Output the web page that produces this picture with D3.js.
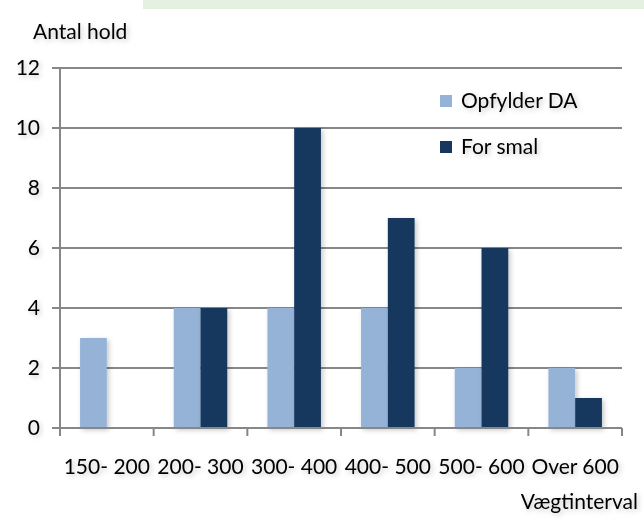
<!DOCTYPE html>
<html>
<head>
<meta charset="utf-8">
<script src="https://cdn.jsdelivr.net/npm/d3@7"></script>
<style>
body { margin: 0; background: #fff; }
svg text { font-family: Lato, "Open Sans", sans-serif; fill: #000; }
</style>
</head>
<body>
<div id="chart"></div>
<script>
// chart data
const categories = ["150- 200", "200- 300", "300- 400", "400- 500", "500- 600", "Over 600"];
const opfylder = [3, 4, 4, 4, 2, 2];
const forSmal = [0, 4, 10, 7, 6, 1];
const seriesNames = ["Opfylder DA", "For smal"];
const yTicks = [0, 2, 4, 6, 8, 10, 12];

const width = 644, height = 519;
const margin = {top: 68, right: 22, bottom: 91, left: 60};
const colors = ["#95b3d7", "#17375e"];
const fontSize = "21px";

let svg = d3.select("#chart")
	.append("svg")
	.attr("width", width)
	.attr("height", height);

let defs = svg.append("defs");
let shadow = defs.append("filter").attr("id", "shadow")
	.attr("x", "-30%").attr("y", "-30%").attr("width", "160%").attr("height", "160%");
shadow.append("feDropShadow")
	.attr("dx", 2).attr("dy", 2).attr("stdDeviation", 2.5)
	.attr("flood-color", "#000").attr("flood-opacity", 0.22);

// light green strip at the top
svg.append("rect")
	.attr("x", 143).attr("y", 0)
	.attr("width", width - 143).attr("height", 9)
	.attr("fill", "#e5f0e3");

let g = svg.append("g")
	.attr("transform", `translate(${margin.left}, ${margin.top})`);

let w = width - margin.left - margin.right;
let h = height - margin.top - margin.bottom;

let x = d3.scaleBand()
	.domain(categories)
	.range([0, w]);

let y = d3.scaleLinear()
	.domain([0, 12])
	.range([h, 0]);

// gridlines
g.append("g")
	.selectAll("line")
	.data(yTicks)
	.enter()
	.append("line")
	.attr("x1", -8)
	.attr("x2", w)
	.attr("y1", d => y(d))
	.attr("y2", d => y(d))
	.attr("stroke", "#878787")
	.attr("stroke-width", 2);

// y labels
g.append("g")
	.selectAll("text")
	.data(yTicks)
	.enter()
	.append("text")
	.attr("x", -20)
	.attr("y", d => y(d))
	.attr("dy", "0.35em")
	.style("text-anchor", "end")
	.style("font-size", fontSize)
	.attr("filter", "url(#shadow)")
	.text(d => d);

let barW = x.bandwidth() / 3.5;
let x1 = d3.scaleBand()
	.domain([0, 1])
	.range([barW * 0.75, barW * 0.75 + barW * 2]);

let rows = categories.map((c, i) => ({cat: c, vals: [opfylder[i], forSmal[i]]}));

let groups = g.selectAll(".grp")
	.data(rows)
	.enter()
	.append("g")
	.attr("class", "grp")
	.attr("transform", d => `translate(${x(d.cat)}, 0)`);

groups.selectAll("rect")
	.data(d => d.vals.map((v, k) => ({k: k, v: v})))
	.enter()
	.append("rect")
	.filter(d => d.v > 0)
	.attr("x", d => x1(d.k))
	.attr("y", d => y(d.v))
	.attr("width", x1.bandwidth())
	.attr("height", d => h - y(d.v))
	.attr("fill", d => colors[d.k])
	.attr("filter", "url(#shadow)");

// axes lines
g.append("line")
	.attr("x1", 0).attr("x2", 0)
	.attr("y1", 0).attr("y2", h + 1)
	.attr("stroke", "#878787").attr("stroke-width", 2);

g.append("line")
	.attr("x1", 0).attr("x2", w)
	.attr("y1", h).attr("y2", h)
	.attr("stroke", "#878787").attr("stroke-width", 2);

let xTicks = categories.map(c => x(c)).concat([w]);
g.append("g")
	.selectAll("line")
	.data(xTicks)
	.enter()
	.append("line")
	.attr("x1", d => d).attr("x2", d => d)
	.attr("y1", h).attr("y2", h + 8)
	.attr("stroke", "#878787").attr("stroke-width", 2);

// category labels
g.append("g")
	.selectAll("text")
	.data(categories)
	.enter()
	.append("text")
	.attr("x", d => x(d) + x.bandwidth() / 2)
	.attr("y", h + 39)
	.attr("dy", "0.35em")
	.style("text-anchor", "middle")
	.style("font-size", fontSize)
	.attr("filter", "url(#shadow)")
	.text(d => d);

// axis titles
svg.append("text")
	.attr("x", 33)
	.attr("y", 32)
	.attr("dy", "0.35em")
	.style("font-size", fontSize)
	.attr("filter", "url(#shadow)")
	.text("Antal hold");

svg.append("text")
	.attr("x", 638)
	.attr("y", 502)
	.attr("dy", "0.35em")
	.style("text-anchor", "end")
	.style("font-size", fontSize)
	.attr("filter", "url(#shadow)")
	.text("Vægtinterval");

// legend
let legend = svg.append("g")
	.attr("transform", "translate(440, 101)");

let items = legend.selectAll("g")
	.data(seriesNames)
	.enter()
	.append("g")
	.attr("transform", (d, i) => `translate(0, ${i * 46})`);

items.append("rect")
	.attr("x", 0).attr("y", -6)
	.attr("width", 12).attr("height", 12)
	.attr("fill", (d, i) => colors[i]);

items.append("text")
	.attr("x", 21)
	.attr("y", 0)
	.attr("dy", "0.35em")
	.style("font-size", fontSize)
	.attr("filter", "url(#shadow)")
	.text(d => d);
</script>
</body>
</html>
